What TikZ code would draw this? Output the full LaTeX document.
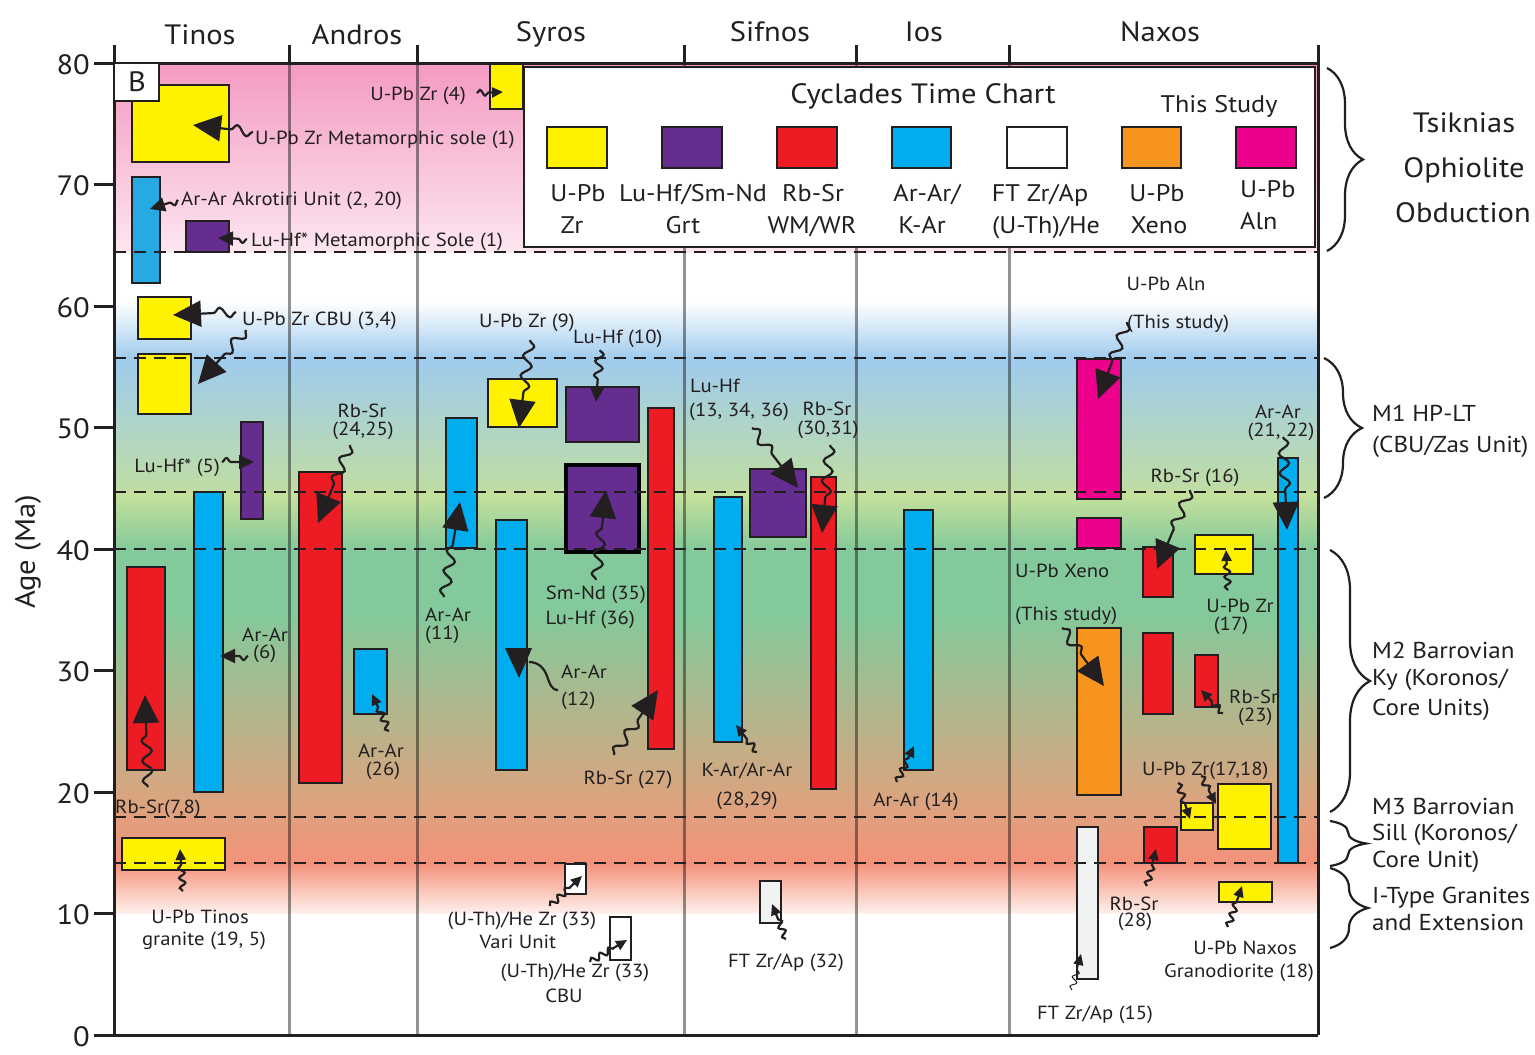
\documentclass[tikz,border=0pt]{standalone}
\usepackage{fontspec}
\setmainfont{PT Sans}[FakeStretch=1.09]
\usetikzlibrary{arrows.meta,decorations.pathmorphing,decorations.pathreplacing}
\definecolor{ink}{HTML}{231F20}
\definecolor{ylw}{HTML}{FFF200}
\definecolor{pur}{HTML}{662D91}
\definecolor{rd}{HTML}{ED1C24}
\definecolor{blu}{HTML}{00AEEF}
\definecolor{blu2}{HTML}{27AAE1}
\definecolor{mag}{HTML}{EC008C}
\definecolor{org}{HTML}{F7941D}
\definecolor{wht}{HTML}{F1F2F2}
\definecolor{pk1}{HTML}{F49AC2}
\definecolor{pk2}{HTML}{FCE6F0}
\definecolor{bl1}{HTML}{9FCBEE}
\definecolor{gy1}{HTML}{C0DDA3}
\definecolor{gy2}{HTML}{C8E29C}
\definecolor{gr1}{HTML}{84C99B}
\definecolor{tn1}{HTML}{D7A680}
\definecolor{sl1}{HTML}{F4927A}
\definecolor{sl2}{HTML}{FEF0EC}
\newcommand\fs[1]{\fontsize{#1}{#1}\selectfont}
\newcommand\sqarrow[4][]{\coordinate (#4s) at (#2); \coordinate (#4e) at (#3); \draw[#1] (#4s) -- (#4e);}
\newcommand\barrect[4][]{\draw[bar, fill=#2, #1] (#3) rectangle (#4);}
\tikzset{
  lab/.style={font=\fs{19}, text=ink, inner sep=0pt},
  biglab/.style={font=\fs{28}, text=ink, inner sep=0pt},
  leglab/.style={font=\fs{24}, text=ink, inner sep=0pt},
  sidelab/.style={font=\fs{23}, text=ink, inner sep=0pt, anchor=base west},
  toplab/.style={font=\fs{28}, text=ink, inner sep=0pt, anchor=base},
  bar/.style={draw=ink, line width=2.5pt},
  coll/.style={draw=black, opacity=0.42, line width=3pt},
  frm/.style={draw=ink, line width=3pt},
  dsh/.style={draw=ink, line width=2.2pt, dash pattern=on 12pt off 8pt},
  brc/.style={draw=ink, line width=2.2pt, decorate},
  sqbase/.style={line width=2.2pt, draw=ink, decorate, decoration={snake, amplitude=5pt, segment length=20pt, post length=#1}},
  big/.style={sqbase=34pt, -{Triangle[length=28pt,width=26pt]}},
  med/.style={sqbase=18pt, -{Triangle[length=15pt,width=14pt]}, decoration={segment length=14pt, amplitude=4pt}},
  sml/.style={sqbase=13pt, -{Triangle[length=11pt,width=10pt]}, decoration={segment length=10pt, amplitude=3pt}},
}
\begin{document}
\begin{tikzpicture}[x=1pt,y=-1pt]
\useasboundingbox (0,0) rectangle (1535,1055);
% background bands
\shade[top color=pk1, bottom color=pk2] (114,63) rectangle (1318,252);
\shade[top color=white, bottom color=bl1] (114,302) rectangle (1318,358.5);
\shade[top color=bl1, bottom color=gy1] (114,358) rectangle (1318,492.5);
\shade[top color=gy2, bottom color=gr1] (114,492) rectangle (1318,549.5);
\fill[gr1] (114,549) rectangle (1318,615.5);
\shade[top color=gr1, bottom color=tn1] (114,615) rectangle (1318,792.5);
\shade[top color=tn1, bottom color=sl1] (114,792) rectangle (1318,863.5);
\shade[top color=sl1, bottom color=sl2] (114,863) rectangle (1318,913);
% column lines
\foreach \cx in {289,417,684,856,1009} {
  \draw[coll] (\cx,63) -- (\cx,1035);
  \draw[frm] (\cx,45) -- (\cx,63);
}
% bars Tinos
\barrect{ylw}{132,85}{229,162}
\barrect{blu2}{132,177}{160,283}
\barrect{pur}{186,221}{229,252}
\barrect{ylw}{138,297}{191,339}
\barrect{ylw}{138,354}{191,414}
\barrect{pur}{241,422}{263,519}
\barrect{rd}{127,567}{165,770}
\barrect{blu}{194,492}{223,792}
\barrect{ylw}{122,838}{225,870}
% Andros
\barrect{rd}{299,472}{342,783}
\barrect{blu}{354,649}{387,714}
% Syros
\barrect{ylw}{490,64}{523,109}
\barrect{blu}{446,418}{477,548}
\barrect{ylw}{488,379}{557,427}
\barrect{pur}{566,387}{639,442}
\barrect[line width=3.5pt, draw=black]{pur}{566,465}{639,552}
\barrect{blu}{496,520}{527,770}
\barrect{rd}{648,408}{674,749}
\barrect{white}{565,864}{586,894}
\barrect{white}{610,917}{631,960}
% Sifnos
\barrect{blu}{714,497}{742,742}
\barrect{pur}{750,469}{806,537}
\barrect{rd}{811,477}{836,789}
\barrect{wht}{760,881}{781,923}
% Ios
\barrect{blu}{904,510}{933,770}
% Naxos
\barrect{mag}{1077,359}{1121,499}
\barrect{mag}{1077,518}{1121,548}
\barrect{rd}{1143,547}{1173,597}
\barrect{ylw}{1195,535}{1253,574}
\barrect{blu}{1278,458}{1298,863}
\barrect{org}{1077,628}{1121,795}
\barrect{rd}{1143,633}{1173,714}
\barrect{rd}{1195,655}{1218,707}
\barrect{ylw}{1181,803}{1213,830}
\barrect{ylw}{1218,784}{1271,849}
\barrect{rd}{1144,827}{1177,863}
\barrect{wht}{1077,827}{1098,979}
\barrect{ylw}{1219,882}{1272,902}
% dashed lines
\foreach \dy in {252,358,492,549,817,863} {
  \draw[dsh] (114,\dy) -- (1318,\dy);
}
% legend
\draw[bar, fill=white] (524,67) rectangle (1315,247);
\node[biglab, anchor=base] (ttl) at (923,103) {Cyclades Time Chart};
\node[leglab, anchor=base] (ths) at (1219,112) {This Study};
\barrect{ylw}{547,127}{607,168}
\barrect{pur}{662,127}{722,168}
\barrect{rd}{777,127}{837,168}
\barrect{blu}{892,127}{951,168}
\barrect{white}{1007,127}{1067,168}
\barrect{org}{1122,127}{1181,168}
\barrect{mag}{1236,127}{1296,168}
\node[leglab, anchor=base] (g1a) at (578,201) {U-Pb};
\node[leglab, anchor=base] (g1b) at (572,233) {Zr};
\node[leglab, anchor=base] (g2a) at (693,201) {Lu-Hf/Sm-Nd};
\node[leglab, anchor=base] (g2b) at (683,233) {Grt};
\node[leglab, anchor=base] (g3a) at (813,201) {Rb-Sr};
\node[leglab, anchor=base] (g3b) at (812,233) {WM/WR};
\node[leglab, anchor=base] (g4a) at (927,201) {Ar-Ar/};
\node[leglab, anchor=base] (g4b) at (922,233) {K-Ar};
\node[leglab, anchor=base] (g5a) at (1040,201) {FT Zr/Ap};
\node[leglab, anchor=base] (g5b) at (1046,233) {(U-Th)/He};
\node[leglab, anchor=base] (g6a) at (1157,201) {U-Pb};
\node[leglab, anchor=base] (g6b) at (1159,233) {Xeno};
\node[leglab, anchor=base west] (g7a) at (1240,197) {U-Pb};
\node[leglab, anchor=base west] (g7b) at (1240,229) {Aln};
% frame
\draw[frm] (114,45) -- (114,1035);
\draw[frm] (1318,45) -- (1318,1035);
\draw[frm] (114,63) -- (1318,63);
\draw[frm] (94,1035) -- (1318,1035);
\foreach \t in {0,...,8} {
  \draw[frm] (94,{1035-\t*121.5}) -- (114,{1035-\t*121.5});
  \node[biglab, anchor=base east] at (90,{1035-\t*121.5+11}) {\pgfmathparse{int(\t*10)}\pgfmathresult};
}
\node[biglab, rotate=90] (age) at (28,552) {Age (Ma)};
% column titles
\node[biglab, anchor=base] (cT) at (200,44) {Tinos};
\node[biglab, anchor=base] (cA) at (357,44) {Andros};
\node[biglab, anchor=base] (cS) at (551,41) {Syros};
\node[biglab, anchor=base] (cF) at (770,41) {Sifnos};
\node[biglab, anchor=base] (cI) at (924,41) {Ios};
\node[biglab, anchor=base] (cN) at (1160,41) {Naxos};
% B box
\draw[bar, fill=white] (114,63) rectangle (159,101);
\node[biglab] (B) at (137,82) {B};
% labels
\node[lab, anchor=base east] (l4) at (466,100) {U-Pb Zr (4)};
\node[lab, anchor=base west] (l1) at (255,144) {U-Pb Zr Metamorphic sole (1)};
\node[lab, anchor=base west] (l2) at (181,205) {Ar-Ar Akrotiri Unit (2, 20)};
\node[lab, anchor=base west] (l1b) at (251,246) {Lu-Hf* Metamorphic Sole (1)};
\node[lab, anchor=base west] (l3) at (242,325) {U-Pb Zr CBU (3,4)};
\node[lab, anchor=base east] (l5) at (220,472) {Lu-Hf* (5)};
\node[lab, anchor=base] (l24a) at (362,417) {Rb-Sr};
\node[lab, anchor=base] (l24b) at (363,435) {(24,25)};
\node[lab, anchor=base west] (l9) at (479,327) {U-Pb Zr (9)};
\node[lab, anchor=base west] (l10) at (573,343) {Lu-Hf (10)};
\node[lab, anchor=base west] (l13a) at (690,392) {Lu-Hf};
\node[lab, anchor=base west] (l13b) at (689,416) {(13, 34, 36)};
\node[lab, anchor=base] (l30a) at (827,415) {Rb-Sr};
\node[lab, anchor=base] (l30b) at (828,434) {(30,31)};
\node[lab, anchor=base east] (l35) at (646,599) {Sm-Nd (35)};
\node[lab, anchor=base east] (l36) at (635,624) {Lu-Hf (36)};
\node[lab, anchor=base west] (l12a) at (561,678) {Ar-Ar};
\node[lab, anchor=base west] (l12b) at (561,705) {(12)};
\node[lab, anchor=base] (l27) at (628,784) {Rb-Sr (27)};
\node[lab, anchor=base] (l28a) at (747,776) {K-Ar/Ar-Ar};
\node[lab, anchor=base] (l28b) at (747,805) {(28,29)};
\node[lab, anchor=base] (l14) at (916,806) {Ar-Ar (14)};
\node[lab, anchor=base west] (l6a) at (242,641) {Ar-Ar};
\node[lab, anchor=base west] (l6b) at (253,658) {(6)};
\node[lab, anchor=base] (l26a) at (381,757) {Ar-Ar};
\node[lab, anchor=base] (l26b) at (383,775) {(26)};
\node[lab, anchor=base west] (l11a) at (425,621) {Ar-Ar};
\node[lab, anchor=base west] (l11b) at (425,639) {(11)};
\node[lab, anchor=base west] (l7) at (115,813) {Rb-Sr(7,8)};
\node[lab, anchor=base] (l19a) at (200,923) {U-Pb Tinos};
\node[lab, anchor=base] (l19b) at (204,945) {granite (19, 5)};
\node[lab, anchor=base] (l33a) at (522,925) {(U-Th)/He Zr (33)};
\node[lab, anchor=base] (l33b) at (518,948) {Vari Unit};
\node[lab, anchor=base] (l33c) at (575,977) {(U-Th)/He Zr (33)};
\node[lab, anchor=base] (l33d) at (564,1002) {CBU};
\node[lab, anchor=base] (l32) at (786,967) {FT Zr/Ap (32)};
\node[lab, anchor=base] (lAa) at (1166,290) {U-Pb Aln};
\node[lab, anchor=base west] (lAb) at (1127,328) {(This study)};
\node[lab, anchor=base] (l21a) at (1278,418) {Ar-Ar};
\node[lab, anchor=base] (l21b) at (1281,436) {(21, 22)};
\node[lab, anchor=base] (l16) at (1195,482) {Rb-Sr (16)};
\node[lab, anchor=base west] (lXa) at (1015,577) {U-Pb Xeno};
\node[lab, anchor=base west] (lXb) at (1015,620) {(This study)};
\node[lab, anchor=base] (l17a) at (1240,612) {U-Pb Zr};
\node[lab, anchor=base] (l17b) at (1231,630) {(17)};
\node[lab, anchor=base west] (l23a) at (1229,703) {Rb-Sr};
\node[lab, anchor=base west] (l23b) at (1238,721) {(23)};
\node[lab, anchor=base west] (l18) at (1142,775) {U-Pb Zr(17,18)};
\node[lab, anchor=base] (l28na) at (1134,910) {Rb-Sr};
\node[lab, anchor=base] (l28nb) at (1135,926) {(28)};
\node[lab, anchor=base] (lNa) at (1245,954) {U-Pb Naxos};
\node[lab, anchor=base] (lNb) at (1239,977) {Granodiorite (18)};
\node[lab, anchor=base] (l15) at (1095,1019) {FT Zr/Ap (15)};
% squiggly arrows
\sqarrow[sml]{477,93}{503,92}{a4}
\sqarrow[big]{253,132}{193,125}{a1}
\sqarrow[med]{178,200}{150,209}{a2}
\sqarrow[med]{247,239}{218,238}{a1b}
\sqarrow[big]{236,312}{173,315}{a3a}
\sqarrow[big]{246,330}{198,384}{a3b}
\sqarrow[med]{222,462}{254,462}{a5}
\sqarrow[big]{350,445}{318,523}{a24}
\sqarrow[big]{444,597}{460,502}{a11}
\sqarrow[big]{530,340}{519,428}{a9}
\sqarrow[med]{600,350}{596,402}{a10}
\sqarrow[big]{596,580}{606,490}{a35}
\coordinate (a12s) at (558,690);
\coordinate (a12e) at (529,662);
\draw[line width=2.2pt, draw=ink] (a12s) to[out=180,in=-70] (547,676) to[out=110,in=0] (a12e);
\fill[ink] (505,648) -- (532,648) -- (519,678) -- cycle;
\sqarrow[big]{614,755}{658,690}{a27}
\sqarrow[big]{752,428}{798,488}{a13}
\sqarrow[big]{830,445}{822,533}{a30}
\sqarrow[sml]{757,752}{736,725}{a28}
\sqarrow[sml]{897,782}{914,746}{a14}
\sqarrow[med]{248,656}{220,656}{a6}
\sqarrow[big]{148,787}{145,695}{a7}
\sqarrow[sml]{389,731}{372,694}{a26}
\sqarrow[sml]{183,891}{180,849}{a19}
\sqarrow[sml]{550,906}{582,876}{a33a}
\sqarrow[sml]{590,962}{627,940}{a33b}
\sqarrow[sml]{786,939}{772,904}{a32}
\sqarrow[big]{1127,322}{1098,399}{aAln}
\sqarrow[big]{1190,490}{1157,569}{a16}
\sqarrow[big]{1283,437}{1287,530}{a21}
\sqarrow[big]{1062,628}{1104,686}{aX}
\sqarrow[sml]{1228,590}{1226,550}{a17}
\sqarrow[sml]{1223,713}{1201,690}{a23}
\sqarrow[sml]{1178,783}{1190,819}{a18a}
\sqarrow[sml]{1201,776}{1216,804}{a18b}
\sqarrow[sml]{1147,886}{1156,849}{a28n}
\sqarrow[sml]{1228,927}{1242,886}{aN}
\sqarrow[sml,line width=1pt]{1072,990}{1081,954}{a15}
% braces and side labels
\draw[brc, decoration={brace, amplitude=36pt}] (1327,68) -- (1327,251);
\draw[brc, decoration={brace, amplitude=38pt}] (1324,358) -- (1324,498);
\draw[brc, decoration={brace, amplitude=40pt}] (1330,550) -- (1330,812);
\draw[brc, decoration={brace, amplitude=36pt}] (1330,821) -- (1330,866);
\draw[brc, decoration={brace, amplitude=38pt}] (1330,868) -- (1330,948);
\node[toplab] (s1a) at (1464,132) {Tsiknias};
\node[toplab] (s1b) at (1464,177) {Ophiolite};
\node[toplab] (s1c) at (1463,222) {Obduction};
\node[sidelab] (s2a) at (1372,421) {M1 HP-LT};
\node[sidelab] (s2b) at (1372,452) {(CBU/Zas Unit)};
\node[sidelab] (s3a) at (1372,658) {M2 Barrovian};
\node[sidelab] (s3b) at (1372,685) {Ky (Koronos/};
\node[sidelab] (s3c) at (1372,715) {Core Units)};
\node[sidelab] (s4a) at (1372,814) {M3 Barrovian};
\node[sidelab] (s4b) at (1372,840) {Sill (Koronos/};
\node[sidelab] (s4c) at (1372,867) {Core Unit)};
\node[sidelab] (s5a) at (1372,903) {I-Type Granites};
\node[sidelab] (s5b) at (1372,930) {and Extension};
\end{tikzpicture}
\end{document}
